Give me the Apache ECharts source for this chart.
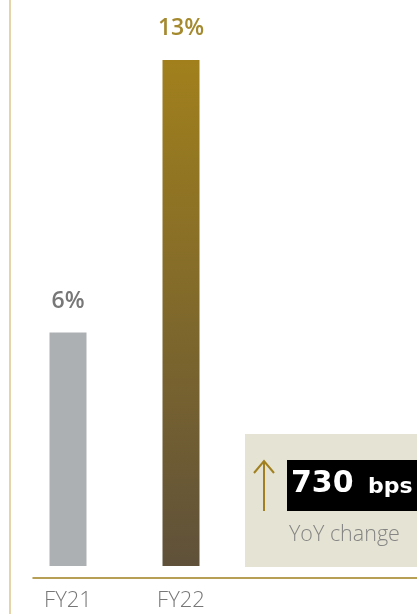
<!DOCTYPE html>
<html>
<head>
<meta charset="utf-8">
<script src="https://cdn.jsdelivr.net/npm/echarts@6/dist/echarts.min.js"></script>
<style>
  html, body { margin: 0; padding: 0; background: #fff; }
  #chart { width: 417px; height: 614px; }
</style>
</head>
<body>
<div id="chart"></div>
<script>
// data
const categories = ['FY21', 'FY22']
const margins = [6, 13]
const changeValue = '730'
const changeUnit = 'bps'
const changeLabel = 'YoY change'

const gold = '#a1801f'
const grey = '#adb0b3'

const myChart = echarts.init(document.getElementById('chart'))

const options = {
  animation: false,
  grid: [
    // bars
    { left: 11.5, width: 226, top: 60, bottom: 48 },
    // long baseline under the chart
    { left: 33, right: 0, top: 60, bottom: 36 }
  ],
  xAxis: [
    {
      gridIndex: 0,
      type: 'category',
      data: categories,
      axisLine: { show: false },
      axisTick: { show: false },
      axisLabel: {
        margin: 24,
        color: '#777777',
        fontFamily: 'Open Sans',
        fontWeight: 300,
        fontSize: 22
      }
    },
    {
      gridIndex: 1,
      type: 'category',
      data: [''],
      axisLine: { lineStyle: { color: gold, width: 1.5 } },
      axisTick: { show: false },
      axisLabel: { show: false }
    }
  ],
  yAxis: [
    { gridIndex: 0, type: 'value', min: 0, max: 13, show: false },
    { gridIndex: 1, type: 'value', show: false }
  ],
  series: [
    {
      type: 'bar',
      xAxisIndex: 0,
      yAxisIndex: 0,
      barWidth: 37,
      data: margins.map((v, i) => ({
        value: v,
        itemStyle: {
          color: i === 0 ? grey : new echarts.graphic.LinearGradient(0, 0, 0, 1, [
            { offset: 0, color: '#a1801c' },
            { offset: 1, color: '#5f513a' }
          ])
        },
        label: {
          color: i === 0 ? '#777777' : '#a4892f'
        }
      })),
      label: {
        show: true,
        position: 'top',
        distance: 20,
        formatter: '{c}%',
        fontFamily: 'Open Sans',
        fontWeight: 600,
        fontSize: 23
      }
    }
  ],
  graphic: [
    // left rule
    {
      type: 'line',
      shape: { x1: 10, y1: 0, x2: 10, y2: 614 },
      style: { stroke: '#dcc48e', lineWidth: 1.5 }
    },
    // callout box
    {
      type: 'rect',
      shape: { x: 245, y: 434, width: 172, height: 133 },
      style: { fill: '#e5e3d3' }
    },
    {
      type: 'rect',
      shape: { x: 287, y: 460, width: 130, height: 51 },
      style: { fill: '#000' }
    },
    {
      type: 'polyline',
      shape: { points: [[264, 511], [264, 461]] },
      style: { stroke: gold, lineWidth: 2, fill: null }
    },
    {
      type: 'polyline',
      shape: { points: [[254, 473], [264, 461], [274, 473]] },
      style: { stroke: gold, lineWidth: 2, fill: null }
    },
    {
      type: 'text',
      x: 291,
      y: 484,
      style: {
        text: changeValue,
        fill: '#fff',
        font: 'bold 30px "DejaVu Sans"',
        verticalAlign: 'middle'
      }
    },
    {
      type: 'text',
      x: 368,
      y: 487,
      style: {
        text: changeUnit,
        fill: '#fff',
        font: 'bold 22px "DejaVu Sans"',
        verticalAlign: 'middle'
      }
    },
    {
      type: 'text',
      x: 289,
      y: 535,
      style: {
        text: changeLabel,
        fill: '#858585',
        font: '300 21.5px "Open Sans"',
        verticalAlign: 'middle'
      }
    }
  ]
}

myChart.setOption(options)
</script>
</body>
</html>
